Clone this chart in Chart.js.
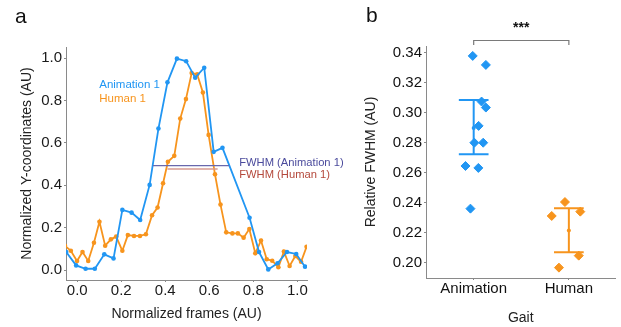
<!DOCTYPE html>
<html>
<head>
<meta charset="utf-8">
<script src="https://cdn.jsdelivr.net/npm/chart.js@4/dist/chart.umd.min.js"></script>
<style>
  body { margin: 0; background: #fff; }
  #wrap { position: relative; width: 621px; height: 327px; overflow: hidden; font-family: "Liberation Sans", Arial, sans-serif; }
  canvas { position: absolute; top: 0; }
  #trace { left: 0; }
  #fwhm { left: 355px; }
  .panel { position: absolute; font-size: 21px; color: #111; line-height: 1; }
</style>
</head>
<body>
<div id="wrap">
  <canvas id="trace" width="360" height="327"></canvas>
  <canvas id="fwhm" width="266" height="327"></canvas>
  <div class="panel" style="left:15px; top:5px;">a</div>
  <div class="panel" style="left:366px; top:4px;">b</div>
</div>
<script>
// panel a: normalized trajectories
const animX = [-0.05, -0.005, 0.038, 0.08, 0.123, 0.165, 0.205, 0.247, 0.286, 0.329, 0.369, 0.41, 0.453,
    0.495, 0.536, 0.577, 0.62, 0.66, 0.783, 0.826, 0.868, 0.91, 0.953, 0.995, 1.035];
const animY = [0.085, 0.022, 0.006, 0.006, 0.074, 0.055, 0.284, 0.271, 0.236, 0.402, 0.668, 0.886, 0.998,
    0.986, 0.908, 0.955, 0.558, 0.577, 0.247, 0.085, 0.003, 0.032, 0.085, 0.076, 0.016];
const humanX = [-0.056, -0.029, -0.001, 0.024, 0.05, 0.076, 0.101, 0.127, 0.153, 0.177, 0.205, 0.23, 0.258,
    0.285, 0.312, 0.34, 0.365, 0.39, 0.412, 0.441, 0.468, 0.494, 0.52, 0.545, 0.571, 0.597, 0.626, 0.651,
    0.677, 0.705, 0.73, 0.756, 0.782, 0.809, 0.835, 0.861, 0.886, 0.914, 0.939, 0.965, 0.991, 1.017, 1.042];
const humanY = [0.115, 0.091, 0.043, 0.085, 0.043, 0.129, 0.228, 0.115, 0.145, 0.158, 0.091, 0.165, 0.161,
    0.161, 0.169, 0.259, 0.295, 0.41, 0.511, 0.539, 0.715, 0.807, 0.93, 0.924, 0.838, 0.638, 0.452, 0.309,
    0.178, 0.173, 0.173, 0.153, 0.194, 0.079, 0.139, 0.051, 0.044, 0.013, 0.087, 0.019, 0.066, 0.039, 0.110];
const fwhmAnimX = [0.344, 0.69];
const fwhmAnimLevel = 0.493;
const fwhmHumanX = [0.41, 0.638];
const fwhmHumanLevel = 0.477;
const traceTicks = [0, 0.2, 0.4, 0.6, 0.8, 1.0];

// panel b: relative FWHM per gait
const groups = ['Animation', 'Human'];
const animFwhm = [0.3377, 0.3317, 0.3073, 0.3033, 0.2911, 0.2799, 0.2799, 0.2644, 0.2631, 0.236];
const animJitter = [0.99, 1.128, 1.083, 1.128, 1.052, 1.007, 1.10, 0.914, 1.049, 0.966];
const humanFwhm = [0.2404, 0.2311, 0.234, 0.2047, 0.1967];
const humanJitter = [1.959, 1.82, 2.12, 2.104, 1.896];
const groupMean = [0.2897, 0.2214];
const barLow = [0.2722, 0.2069];
const barHigh = [0.3084, 0.2362];
const fwhmTicks = [0.20, 0.22, 0.24, 0.26, 0.28, 0.30, 0.32, 0.34];

const BLUE = '#2196f3';
const ORANGE = '#f7941d';

Chart.defaults.font.family = '"Liberation Sans", Arial, sans-serif';
Chart.defaults.color = '#1a1a1a';

function pairs(xs, ys) {
    return xs.map((x, i) => ({x: x, y: ys[i]}));
}

function errorBar(i) {
    const c = i + 1, w = 0.156;
    return [
        {x: c - w, y: barHigh[i]}, {x: c + w, y: barHigh[i]}, {x: c, y: null},
        {x: c, y: barHigh[i]}, {x: c, y: barLow[i]}, {x: c, y: null},
        {x: c - w, y: barLow[i]}, {x: c + w, y: barLow[i]}
    ];
}

const axisLine = {
    grid: {drawOnChartArea: false, drawTicks: true, tickLength: 2, color: '#8a8a8a'},
    border: {color: '#8a8a8a', width: 1}
};

// text drawn in data space
const labelPlugin = {
    id: 'labels',
    afterDatasetsDraw(chart, args, opts) {
        const {ctx, scales} = chart;
        ctx.save();
        ctx.textBaseline = 'middle';
        opts.items.forEach(t => {
            ctx.font = t.font;
            ctx.fillStyle = t.color;
            ctx.textAlign = t.align || 'left';
            ctx.fillText(t.text, scales.x.getPixelForValue(t.x), scales.y.getPixelForValue(t.y));
        });
        ctx.restore();
    }
};

// significance bracket above the groups
const bracketPlugin = {
    id: 'bracket',
    afterDraw(chart) {
        const {ctx, chartArea, scales} = chart;
        const x1 = scales.x.getPixelForValue(1), x2 = scales.x.getPixelForValue(2);
        const top = chartArea.top - 5.5, foot = chartArea.top - 1;
        ctx.save();
        ctx.strokeStyle = '#7a7a7a';
        ctx.lineWidth = 1.2;
        ctx.beginPath();
        ctx.moveTo(x1, foot);
        ctx.lineTo(x1, top);
        ctx.lineTo(x2, top);
        ctx.lineTo(x2, foot);
        ctx.stroke();
        ctx.fillStyle = '#111';
        ctx.font = 'bold 14px "Liberation Sans", Arial, sans-serif';
        ctx.textAlign = 'center';
        ctx.textBaseline = 'middle';
        ctx.fillText('***', (x1 + x2) / 2, top - 12);
        ctx.restore();
    }
};

function getTraceChart() {
    const config = {
        type: 'scatter',
        data: {
            datasets: [
                {
                    data: [{x: fwhmAnimX[0], y: fwhmAnimLevel}, {x: fwhmAnimX[1], y: fwhmAnimLevel}],
                    showLine: true, borderColor: '#6868ad', borderWidth: 1.2, pointRadius: 0
                },
                {
                    data: [{x: fwhmHumanX[0], y: fwhmHumanLevel}, {x: fwhmHumanX[1], y: fwhmHumanLevel}],
                    showLine: true, borderColor: '#d69a90', borderWidth: 1.6, pointRadius: 0
                },
                {
                    label: 'Animation 1',
                    data: pairs(animX, animY),
                    showLine: true, borderColor: BLUE, backgroundColor: BLUE,
                    borderWidth: 1.8, pointRadius: 2.3, pointBorderWidth: 0
                },
                {
                    label: 'Human 1',
                    data: pairs(humanX, humanY),
                    showLine: true, borderColor: ORANGE, backgroundColor: ORANGE,
                    borderWidth: 1.8, pointRadius: 2.3, pointBorderWidth: 0
                }
            ]
        },
        options: {
            responsive: false,
            animation: false,
            devicePixelRatio: 1,
            layout: {padding: {left: 15, right: 53, top: 47, bottom: 0}},
            plugins: {
                legend: {display: false},
                tooltip: {enabled: false},
                labels: {
                    items: [
                        {text: 'Animation 1', x: 0.1, y: 0.874, color: BLUE, font: '11.5px "Liberation Sans", Arial'},
                        {text: 'Human 1', x: 0.1, y: 0.806, color: ORANGE, font: '11.5px "Liberation Sans", Arial'},
                        {text: 'FWHM (Animation 1)', x: 0.736, y: 0.504, color: '#4a4a9c', font: '11.2px "Liberation Sans", Arial'},
                        {text: 'FWHM (Human 1)', x: 0.736, y: 0.449, color: '#b4483b', font: '11.2px "Liberation Sans", Arial'}
                    ]
                }
            },
            scales: {
                x: {
                    type: 'linear', min: -0.051, max: 1.044,
                    afterFit: s => { s.height = 47; },
                    afterBuildTicks: s => { s.ticks = traceTicks.map(v => ({value: v})); },
                    ticks: {font: {size: 15}, padding: 0, callback: v => v.toFixed(1)},
                    title: {display: true, text: 'Normalized frames (AU)', font: {size: 14}, color: '#222'},
                    ...axisLine
                },
                y: {
                    min: -0.047, max: 1.053,
                    afterFit: s => { s.width = 51; },
                    afterBuildTicks: s => { s.ticks = traceTicks.map(v => ({value: v})); },
                    ticks: {font: {size: 15}, padding: 2, callback: v => v.toFixed(1)},
                    title: {display: true, text: 'Normalized Y-coordinates (AU)', font: {size: 14}, color: '#222'},
                    ...axisLine
                }
            }
        },
        plugins: [labelPlugin]
    };
    new Chart(document.getElementById('trace'), config);
    getFwhmChart();
}

function getFwhmChart() {
    const config = {
        type: 'scatter',
        data: {
            datasets: [
                {data: errorBar(0), showLine: true, borderColor: BLUE, borderWidth: 2, pointRadius: 0},
                {data: errorBar(1), showLine: true, borderColor: ORANGE, borderWidth: 2, pointRadius: 0},
                {
                    data: groupMean.map((m, i) => ({x: i + 1, y: m})),
                    backgroundColor: [BLUE, ORANGE], pointRadius: 2, pointBorderWidth: 0
                },
                {
                    label: groups[0],
                    data: pairs(animJitter, animFwhm),
                    pointStyle: 'rectRot', pointRadius: 4.5, backgroundColor: BLUE, borderColor: BLUE, pointBorderWidth: 1
                },
                {
                    label: groups[1],
                    data: pairs(humanJitter, humanFwhm),
                    pointStyle: 'rectRot', pointRadius: 4.5, backgroundColor: ORANGE, borderColor: ORANGE, pointBorderWidth: 1
                }
            ]
        },
        options: {
            responsive: false,
            animation: false,
            devicePixelRatio: 1,
            layout: {padding: {left: 4, right: 3, top: 46, bottom: 0}},
            plugins: {legend: {display: false}, tooltip: {enabled: false}},
            scales: {
                x: {
                    type: 'linear', min: 0.499, max: 2.49,
                    afterFit: s => { s.height = 49; },
                    afterBuildTicks: s => { s.ticks = groups.map((g, i) => ({value: i + 1})); },
                    ticks: {font: {size: 15}, padding: 0, color: '#111', callback: v => groups[v - 1]},
                    title: {display: true, text: 'Gait', font: {size: 14}, color: '#222', padding: {top: 4, bottom: 0}},
                    ...axisLine
                },
                y: {
                    min: 0.1898, max: 0.3443,
                    afterFit: s => { s.width = 67; },
                    afterBuildTicks: s => { s.ticks = fwhmTicks.map(v => ({value: v})); },
                    ticks: {font: {size: 15}, padding: 2, color: '#111', callback: v => v.toFixed(2)},
                    title: {display: true, text: 'Relative FWHM (AU)', font: {size: 14}, color: '#222'},
                    ...axisLine
                }
            }
        },
        plugins: [bracketPlugin]
    };
    new Chart(document.getElementById('fwhm'), config);
}

getTraceChart();
</script>
</body>
</html>
